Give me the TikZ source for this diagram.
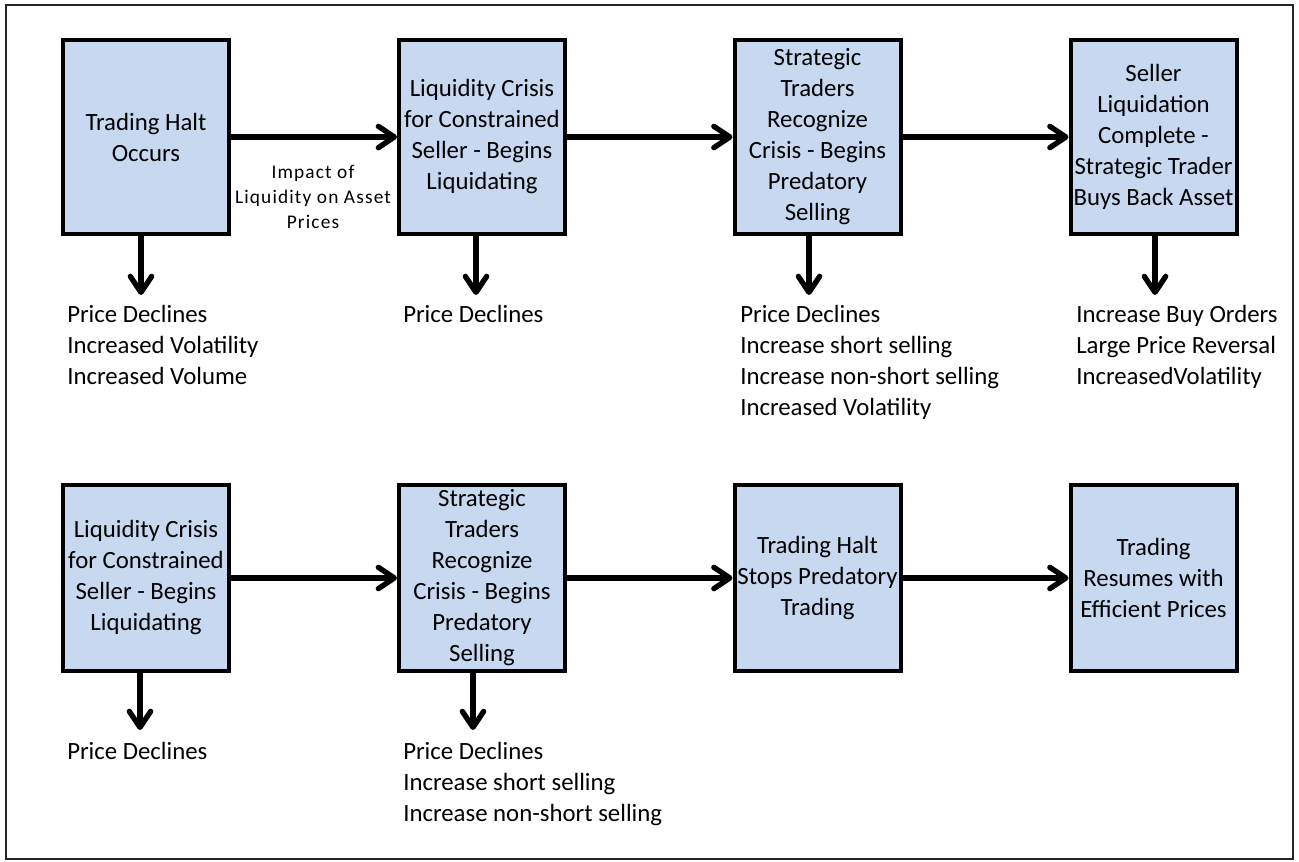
\documentclass[tikz,border=0pt]{standalone}
\usepackage{fontspec}
\setmainfont{Carlito}
\usetikzlibrary{arrows.meta}
\definecolor{cajaazul}{RGB}{198,217,241}

\begin{document}
\begin{tikzpicture}[x=0.75pt,y=-0.75pt,line cap=round,
  caja/.style={draw,line width=3pt,fill=cajaazul,minimum width=124.5pt,
    align=center,inner sep=1pt,font=\fontsize{18.6}{23.25}\selectfont},
  lista/.style={anchor=base west,align=left,inner sep=0pt,
    font=\fontsize{18.6}{23.25}\selectfont},
  flecha/.style={line width=4pt,-{Straight Barb[length=12pt,width=16pt,round]}}]
  \useasboundingbox (0,0) rectangle (1299,861);
  \draw[line width=1.4pt,black!85] (6,5) rectangle (1293,859);
  % Fila superior: la crisis con la negociacion abierta.
  \node[caja,minimum height=145.5pt] (t1) at (146,137) {Trading Halt\\Occurs};
  \node[caja,minimum height=145.5pt] (t2) at (482,137) {Liquidity Crisis\\for Constrained\\Seller - Begins\\Liquidating};
  \node[caja,minimum height=145.5pt] (t3) at (817.5,137) {Strategic\\Traders\\Recognize\\Crisis - Begins\\Predatory\\Selling};
  \node[caja,minimum height=145.5pt] (t4) at (1153.5,137) {Seller\\Liquidation\\Complete -\\Strategic Trader\\Buys Back Asset};
  \draw[flecha] (t1) -- (t2);
  \draw[flecha] (t2) -- (t3);
  \draw[flecha] (t3) -- (t4);
  \node[align=center,inner sep=0pt,font=\fontsize{14.5}{18.75}\selectfont\addfontfeature{LetterSpace=6}]
    (impacto) at (313,197) {Impact of\\Liquidity on Asset\\Prices};
  % la ancla base es la ultima linea: 31 px por linea
  \node[lista] (l1) at (67,384) {Price Declines\\Increased Volatility\\Increased Volume};
  \node[lista] (l2) at (403,322) {Price Declines};
  \node[lista] (l3) at (740,415) {Price Declines\\Increase short selling\\Increase non-short selling\\Increased Volatility};
  \node[lista] (l4) at (1076,384) {Increase Buy Orders\\Large Price Reversal\\IncreasedVolatility};
  \coordinate (e1) at (141,295);
  \coordinate (e2) at (476,295);
  \coordinate (e3) at (809,295);
  \coordinate (e4) at (1155,295);
  \foreach \i in {1,...,4}
    \draw[flecha] (t\i.south -| e\i) -- (e\i);
  % Fila inferior: la pausa corta la venta depredadora.
  \node[caja,minimum height=139.5pt] (b1) at (146,578) {Liquidity Crisis\\for Constrained\\Seller - Begins\\Liquidating};
  \node[caja,minimum height=139.5pt] (b2) at (482,578) {Strategic\\Traders\\Recognize\\Crisis - Begins\\Predatory\\Selling};
  \node[caja,minimum height=139.5pt] (b3) at (817.5,578) {Trading Halt\\Stops Predatory\\Trading};
  \node[caja,minimum height=139.5pt] (b4) at (1153.5,578) {Trading\\Resumes with\\Efficient Prices};
  \draw[flecha] (b1) -- (b2);
  \draw[flecha] (b2) -- (b3);
  \draw[flecha] (b3) -- (b4);
  \node[lista] (m1) at (67,759) {Price Declines};
  \node[lista] (m2) at (403,821) {Price Declines\\Increase short selling\\Increase non-short selling};
  \coordinate (f1) at (140,730);
  \coordinate (f2) at (473,730);
  \draw[flecha] (b1.south -| f1) -- (f1);
  \draw[flecha] (b2.south -| f2) -- (f2);
\end{tikzpicture}
\end{document}
